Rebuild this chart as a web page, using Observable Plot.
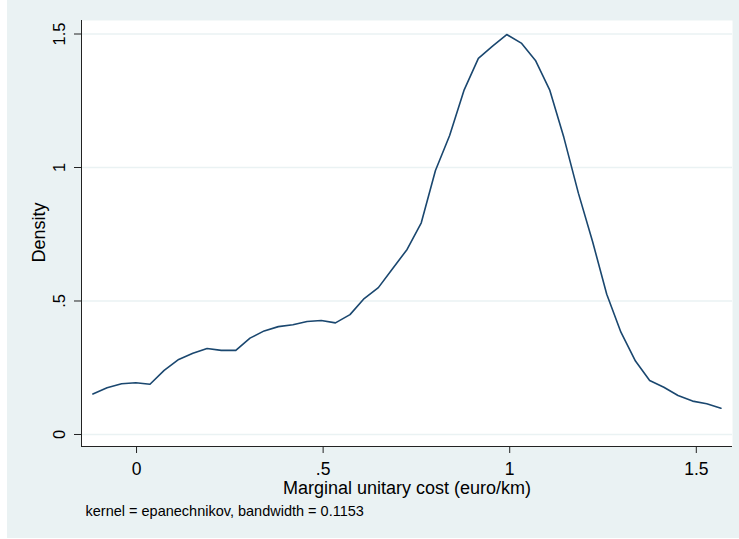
<!DOCTYPE html>
<html>
<head>
<meta charset="utf-8">
<script src="https://cdn.jsdelivr.net/npm/d3@7"></script>
<script src="https://cdn.jsdelivr.net/npm/@observablehq/plot@0.6"></script>
<style>
  html, body { margin: 0; padding: 0; background: #ffffff; }
  #wrap { position: absolute; left: 7px; top: 0px; width: 732px; height: 538px; }
</style>
</head>
<body>
<div id="wrap"></div>
<script>
// Kernel density estimate points
const costX = [-0.117, -0.079, -0.040, -0.002, 0.036, 0.074, 0.113, 0.151, 0.189, 0.227,
  0.266, 0.304, 0.342, 0.380, 0.419, 0.457, 0.495, 0.533, 0.572, 0.610,
  0.648, 0.686, 0.725, 0.763, 0.801, 0.839, 0.878, 0.916, 0.954, 0.992,
  1.031, 1.069, 1.107, 1.145, 1.184, 1.222, 1.260, 1.298, 1.337, 1.375,
  1.413, 1.451, 1.490, 1.528, 1.566];
const densityY = [0.152, 0.175, 0.190, 0.194, 0.188, 0.240, 0.281, 0.304, 0.322, 0.315,
  0.315, 0.361, 0.388, 0.404, 0.411, 0.423, 0.427, 0.418, 0.449, 0.509,
  0.550, 0.621, 0.693, 0.793, 0.989, 1.120, 1.291, 1.409, 1.455, 1.498,
  1.466, 1.401, 1.291, 1.113, 0.904, 0.723, 0.525, 0.383, 0.275, 0.202,
  0.177, 0.146, 0.125, 0.115, 0.0985];

const xTicks = [0, 0.5, 1, 1.5];
const xTickLabels = ["0", ".5", "1", "1.5"];
const yTicks = [0, 0.5, 1, 1.5];
const yTickLabels = ["0", ".5", "1", "1.5"];

const xTitle = "Marginal unitary cost (euro/km)";
const yTitle = "Density";
const note = "kernel = epanechnikov, bandwidth = 0.1153";

const xDomain = [-0.1475, 1.597];
const yDomain = [-0.045, 1.5506];

const data = costX.map((x, i) => ({x, y: densityY[i]}));

const bg = "#EAF2F3";
const lineColor = "#1A476F";
const font = "'Liberation Sans', Arial, Helvetica, sans-serif";

const chart = Plot.plot({
  width: 732,
  height: 538,
  marginLeft: 74,
  marginRight: 7,
  marginTop: 20,
  marginBottom: 92,
  style: { background: bg, fontFamily: font, color: "black", overflow: "visible" },
  x: { domain: xDomain, axis: null },
  y: { domain: yDomain, axis: null },
  marks: [
    Plot.frame({ fill: "white", stroke: null }),
    Plot.ruleY(yTicks, { stroke: bg, strokeWidth: 1.5 }),
    Plot.ruleX([xDomain[0]], { stroke: "#222", strokeWidth: 1 }),
    Plot.ruleY([yDomain[0]], { stroke: "#222", strokeWidth: 1 }),
    Plot.axisX({ ticks: xTicks, tickSize: 7, tickPadding: 9, fontSize: 17.5,
      tickFormat: (d) => xTickLabels[xTicks.indexOf(d)], label: null, stroke: "#222" }),
    Plot.axisY({ ticks: yTicks, tickSize: 7, tickFormat: () => "", label: null, stroke: "#222" }),
    Plot.text(yTicks, { y: (d) => d, text: (d, i) => yTickLabels[i], frameAnchor: "left",
      dx: -22, rotate: -90, fontSize: 16.5, lineAnchor: "middle", textAnchor: "middle" }),
    Plot.text([yTitle], { text: (d) => d, frameAnchor: "left", dx: -42, dy: -1,
      rotate: -90, fontSize: 18, lineAnchor: "middle", textAnchor: "middle" }),
    Plot.text([xTitle], { text: (d) => d, frameAnchor: "bottom", dy: 42, fontSize: 18,
      lineAnchor: "middle", textAnchor: "middle" }),
    Plot.text([note], { text: (d) => d, frameAnchor: "bottom-left", dx: 4, dy: 65,
      fontSize: 14.5, lineAnchor: "middle", textAnchor: "start" }),
    Plot.line(data, { x: "x", y: "y", stroke: lineColor, strokeWidth: 1.6 })
  ]
});

document.getElementById("wrap").appendChild(chart);
</script>
</body>
</html>
